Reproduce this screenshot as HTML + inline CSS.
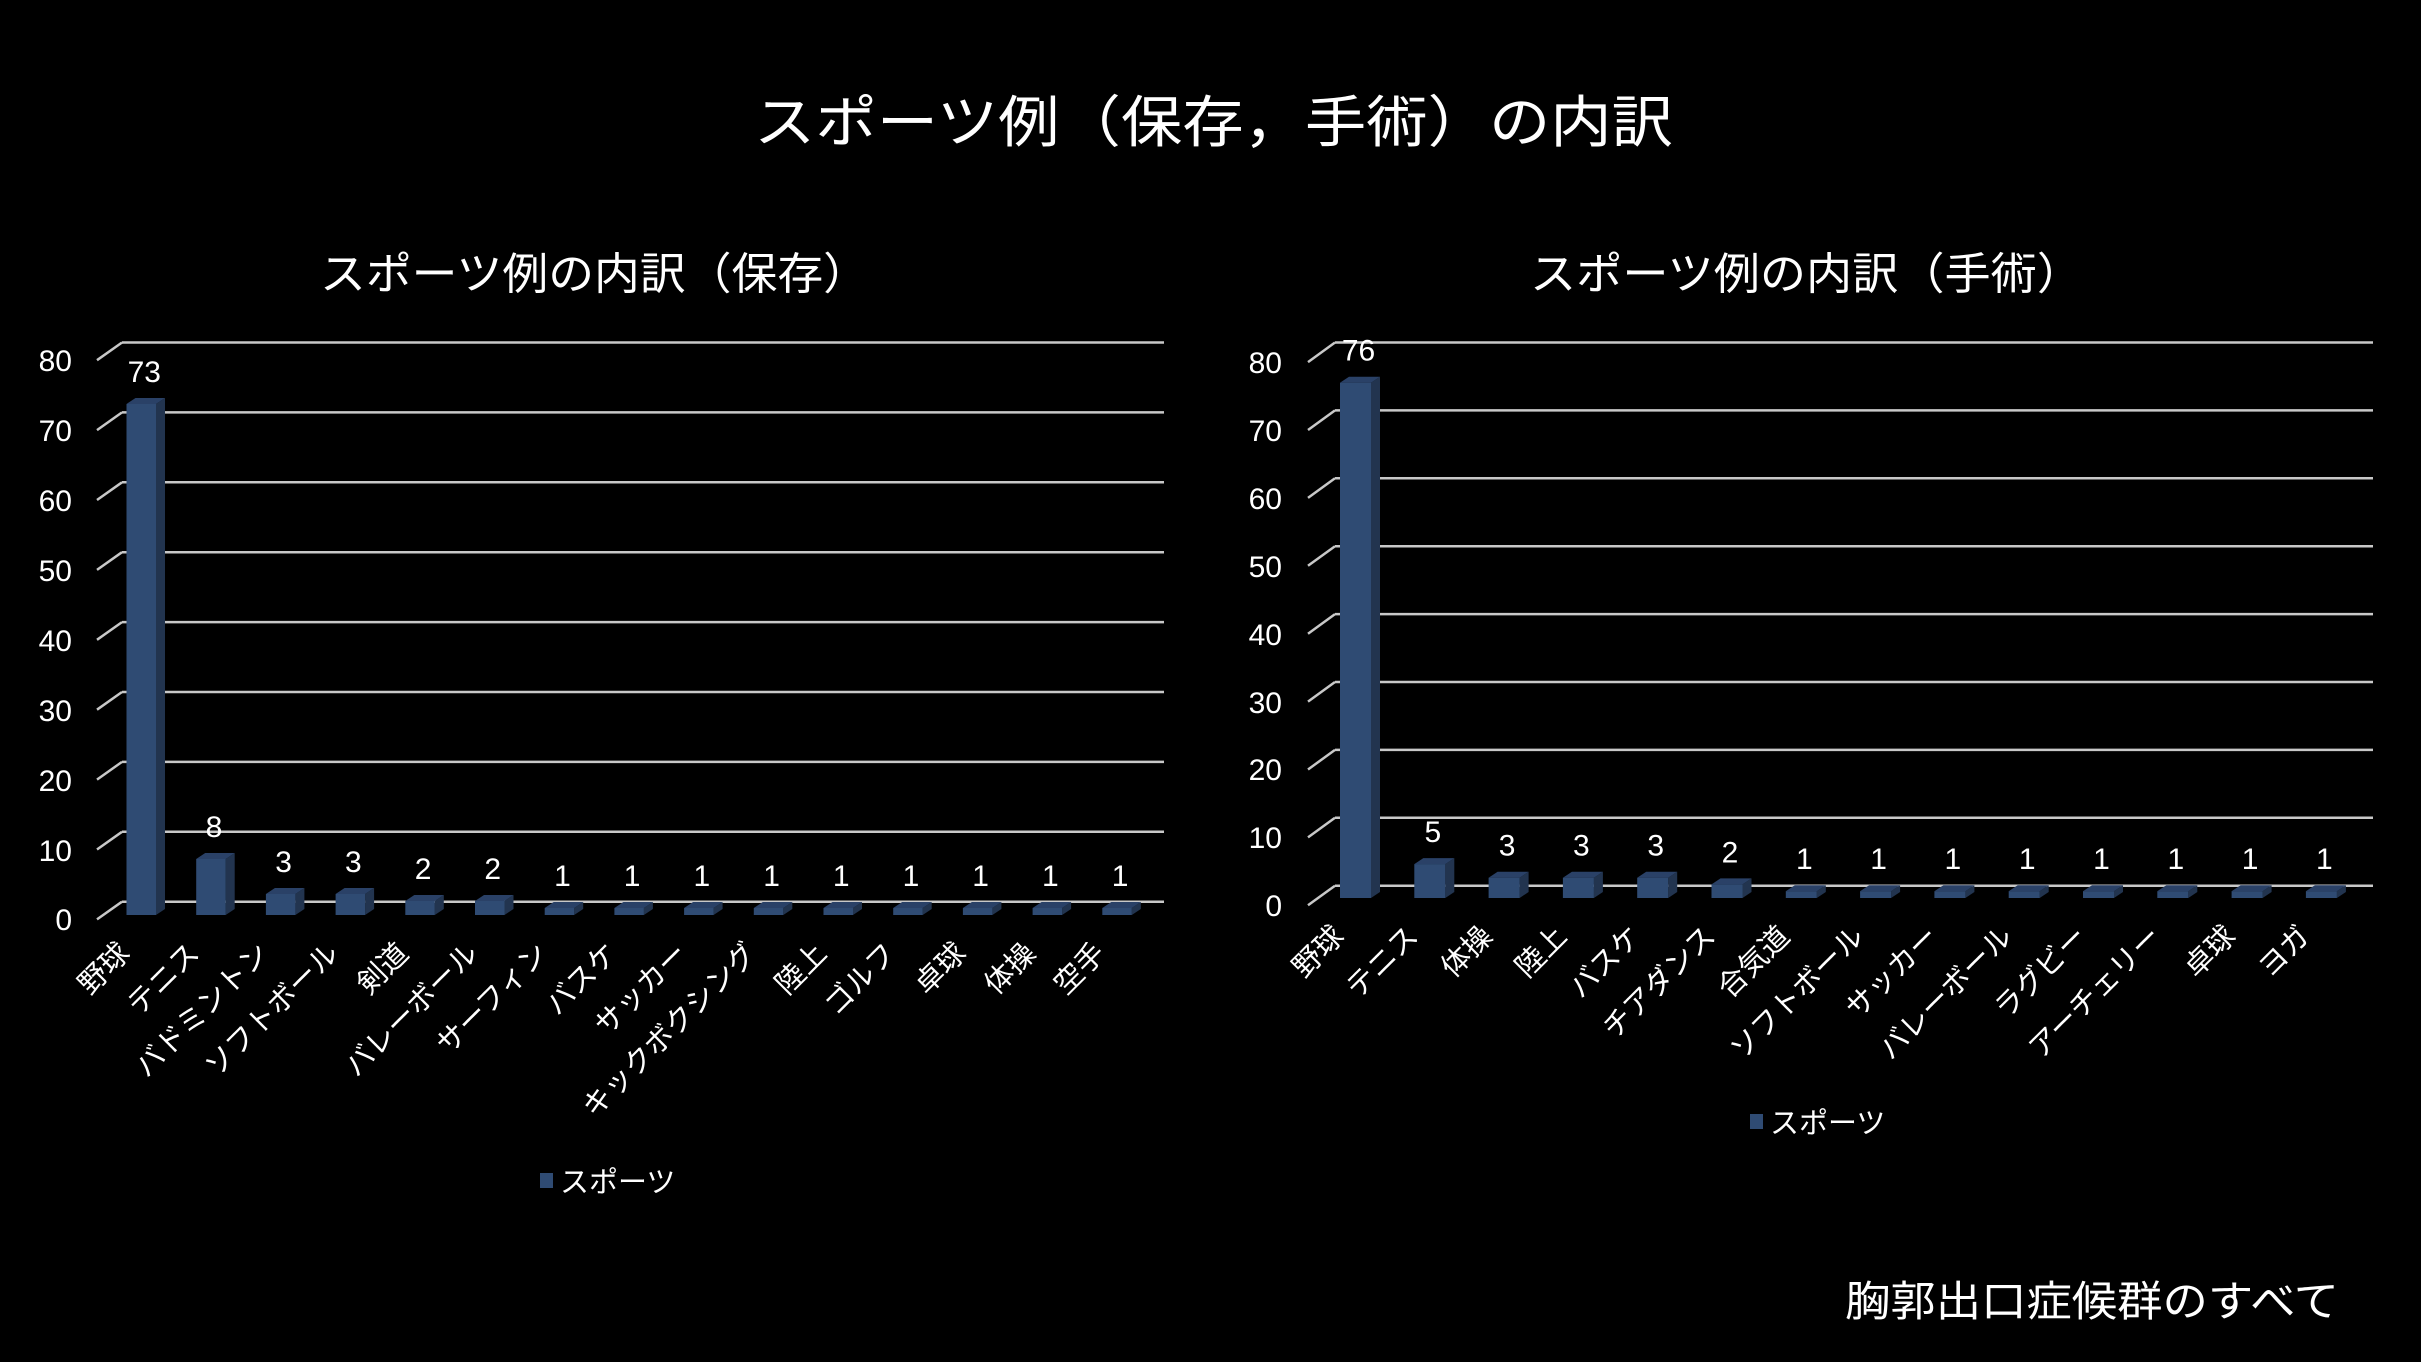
<!DOCTYPE html>
<html><head><meta charset="utf-8"><style>
html,body{margin:0;padding:0;background:#000;}
svg{display:block;}
text{font-family:"Liberation Sans","Noto Sans CJK JP",sans-serif;fill:#fff;}
.g{stroke:#c8c8c8;stroke-width:2.5;}
.f{fill:#2f4b73}.s{fill:#22344f}.t{fill:#2a4167}
.yl{font-size:30px;text-anchor:end}
.vl{font-size:30px;text-anchor:middle}
.cl{font-size:29px;text-anchor:end}
</style></head><body>
<svg width="2421" height="1362" viewBox="0 0 2421 1362" xmlns="http://www.w3.org/2000/svg">
<rect width="2421" height="1362" fill="#000"/>
<text x="754" y="142" font-size="56" textLength="919" lengthAdjust="spacingAndGlyphs">スポーツ例（保存，手術）の内訳</text>
<text x="320" y="289" font-size="44" textLength="549" lengthAdjust="spacingAndGlyphs">スポーツ例の内訳（保存）</text>
<text x="1530" y="289" font-size="44" textLength="553" lengthAdjust="spacingAndGlyphs">スポーツ例の内訳（手術）</text>
<text x="1845" y="1316" font-size="42" textLength="494" lengthAdjust="spacingAndGlyphs">胸郭出口症候群のすべて</text>

<g class="g">
<line x1="97" y1="360.2" x2="122" y2="342.5"/><line x1="122" y1="342.5" x2="1164" y2="342.5"/>
<line x1="97" y1="430.1" x2="122" y2="412.4"/><line x1="122" y1="412.4" x2="1164" y2="412.4"/>
<line x1="97" y1="500" x2="122" y2="482.3"/><line x1="122" y1="482.3" x2="1164" y2="482.3"/>
<line x1="97" y1="569.9" x2="122" y2="552.2"/><line x1="122" y1="552.2" x2="1164" y2="552.2"/>
<line x1="97" y1="639.8" x2="122" y2="622.1"/><line x1="122" y1="622.1" x2="1164" y2="622.1"/>
<line x1="97" y1="709.7" x2="122" y2="692"/><line x1="122" y1="692" x2="1164" y2="692"/>
<line x1="97" y1="779.6" x2="122" y2="761.9"/><line x1="122" y1="761.9" x2="1164" y2="761.9"/>
<line x1="97" y1="849.5" x2="122" y2="831.8"/><line x1="122" y1="831.8" x2="1164" y2="831.8"/>
<line x1="97" y1="919.4" x2="122" y2="901.7"/><line x1="122" y1="901.7" x2="1164" y2="901.7"/>
</g>
<text class="yl" x="72" y="371">80</text>
<text class="yl" x="72" y="441">70</text>
<text class="yl" x="72" y="511">60</text>
<text class="yl" x="72" y="581">50</text>
<text class="yl" x="72" y="651">40</text>
<text class="yl" x="72" y="721">30</text>
<text class="yl" x="72" y="791">20</text>
<text class="yl" x="72" y="861">10</text>
<text class="yl" x="72" y="930">0</text>

<g transform="translate(126.5,404)"><polygon class="s" points="29.5,0 38.5,-6 38.5,505 29.5,511"/><polygon class="t" points="0,0 9,-6 38.5,-6 29.5,0"/><rect class="f" width="29.5" height="511"/><text class="vl" x="17.75" y="-22">73</text><text class="cl" x="4.75" y="551" transform="rotate(-45 4.75 551)">野球</text></g>
<g transform="translate(196.2,859)"><polygon class="s" points="29.5,0 38.5,-6 38.5,50 29.5,56"/><polygon class="t" points="0,0 9,-6 38.5,-6 29.5,0"/><rect class="f" width="29.5" height="56"/><text class="vl" x="17.75" y="-22">8</text><text class="cl" x="4.75" y="96" transform="rotate(-45 4.75 96)">テニス</text></g>
<g transform="translate(265.9,894)"><polygon class="s" points="29.5,0 38.5,-6 38.5,15 29.5,21"/><polygon class="t" points="0,0 9,-6 38.5,-6 29.5,0"/><rect class="f" width="29.5" height="21"/><text class="vl" x="17.75" y="-22">3</text><text class="cl" x="4.75" y="61" transform="rotate(-45 4.75 61)">バドミントン</text></g>
<g transform="translate(335.6,894)"><polygon class="s" points="29.5,0 38.5,-6 38.5,15 29.5,21"/><polygon class="t" points="0,0 9,-6 38.5,-6 29.5,0"/><rect class="f" width="29.5" height="21"/><text class="vl" x="17.75" y="-22">3</text><text class="cl" x="4.75" y="61" transform="rotate(-45 4.75 61)">ソフトボール</text></g>
<g transform="translate(405.3,901)"><polygon class="s" points="29.5,0 38.5,-6 38.5,8 29.5,14"/><polygon class="t" points="0,0 9,-6 38.5,-6 29.5,0"/><rect class="f" width="29.5" height="14"/><text class="vl" x="17.75" y="-22">2</text><text class="cl" x="4.75" y="54" transform="rotate(-45 4.75 54)">剣道</text></g>
<g transform="translate(475,901)"><polygon class="s" points="29.5,0 38.5,-6 38.5,8 29.5,14"/><polygon class="t" points="0,0 9,-6 38.5,-6 29.5,0"/><rect class="f" width="29.5" height="14"/><text class="vl" x="17.75" y="-22">2</text><text class="cl" x="4.75" y="54" transform="rotate(-45 4.75 54)">バレーボール</text></g>
<g transform="translate(544.7,908)"><polygon class="s" points="29.5,0 38.5,-6 38.5,1 29.5,7"/><polygon class="t" points="0,0 9,-6 38.5,-6 29.5,0"/><rect class="f" width="29.5" height="7"/><text class="vl" x="17.75" y="-22">1</text><text class="cl" x="4.75" y="47" transform="rotate(-45 4.75 47)">サーフィン</text></g>
<g transform="translate(614.4,908)"><polygon class="s" points="29.5,0 38.5,-6 38.5,1 29.5,7"/><polygon class="t" points="0,0 9,-6 38.5,-6 29.5,0"/><rect class="f" width="29.5" height="7"/><text class="vl" x="17.75" y="-22">1</text><text class="cl" x="4.75" y="47" transform="rotate(-45 4.75 47)">バスケ</text></g>
<g transform="translate(684.1,908)"><polygon class="s" points="29.5,0 38.5,-6 38.5,1 29.5,7"/><polygon class="t" points="0,0 9,-6 38.5,-6 29.5,0"/><rect class="f" width="29.5" height="7"/><text class="vl" x="17.75" y="-22">1</text><text class="cl" x="4.75" y="47" transform="rotate(-45 4.75 47)">サッカー</text></g>
<g transform="translate(753.8,908)"><polygon class="s" points="29.5,0 38.5,-6 38.5,1 29.5,7"/><polygon class="t" points="0,0 9,-6 38.5,-6 29.5,0"/><rect class="f" width="29.5" height="7"/><text class="vl" x="17.75" y="-22">1</text><text class="cl" x="4.75" y="47" transform="rotate(-45 4.75 47)">キックボクシング</text></g>
<g transform="translate(823.5,908)"><polygon class="s" points="29.5,0 38.5,-6 38.5,1 29.5,7"/><polygon class="t" points="0,0 9,-6 38.5,-6 29.5,0"/><rect class="f" width="29.5" height="7"/><text class="vl" x="17.75" y="-22">1</text><text class="cl" x="4.75" y="47" transform="rotate(-45 4.75 47)">陸上</text></g>
<g transform="translate(893.2,908)"><polygon class="s" points="29.5,0 38.5,-6 38.5,1 29.5,7"/><polygon class="t" points="0,0 9,-6 38.5,-6 29.5,0"/><rect class="f" width="29.5" height="7"/><text class="vl" x="17.75" y="-22">1</text><text class="cl" x="4.75" y="47" transform="rotate(-45 4.75 47)">ゴルフ</text></g>
<g transform="translate(962.9,908)"><polygon class="s" points="29.5,0 38.5,-6 38.5,1 29.5,7"/><polygon class="t" points="0,0 9,-6 38.5,-6 29.5,0"/><rect class="f" width="29.5" height="7"/><text class="vl" x="17.75" y="-22">1</text><text class="cl" x="4.75" y="47" transform="rotate(-45 4.75 47)">卓球</text></g>
<g transform="translate(1032.6,908)"><polygon class="s" points="29.5,0 38.5,-6 38.5,1 29.5,7"/><polygon class="t" points="0,0 9,-6 38.5,-6 29.5,0"/><rect class="f" width="29.5" height="7"/><text class="vl" x="17.75" y="-22">1</text><text class="cl" x="4.75" y="47" transform="rotate(-45 4.75 47)">体操</text></g>
<g transform="translate(1102.3,908)"><polygon class="s" points="29.5,0 38.5,-6 38.5,1 29.5,7"/><polygon class="t" points="0,0 9,-6 38.5,-6 29.5,0"/><rect class="f" width="29.5" height="7"/><text class="vl" x="17.75" y="-22">1</text><text class="cl" x="4.75" y="47" transform="rotate(-45 4.75 47)">空手</text></g>
<rect class="f" x="540" y="1173" width="13" height="15"/>
<text x="560" y="1192" font-size="29">スポーツ</text>

<g class="g">
<line x1="1308" y1="362.1" x2="1335" y2="342.5"/><line x1="1335" y1="342.5" x2="2373" y2="342.5"/>
<line x1="1308" y1="430" x2="1335" y2="410.4"/><line x1="1335" y1="410.4" x2="2373" y2="410.4"/>
<line x1="1308" y1="497.9" x2="1335" y2="478.3"/><line x1="1335" y1="478.3" x2="2373" y2="478.3"/>
<line x1="1308" y1="565.8" x2="1335" y2="546.2"/><line x1="1335" y1="546.2" x2="2373" y2="546.2"/>
<line x1="1308" y1="633.7" x2="1335" y2="614.1"/><line x1="1335" y1="614.1" x2="2373" y2="614.1"/>
<line x1="1308" y1="701.6" x2="1335" y2="682"/><line x1="1335" y1="682" x2="2373" y2="682"/>
<line x1="1308" y1="769.5" x2="1335" y2="749.9"/><line x1="1335" y1="749.9" x2="2373" y2="749.9"/>
<line x1="1308" y1="837.4" x2="1335" y2="817.8"/><line x1="1335" y1="817.8" x2="2373" y2="817.8"/>
<line x1="1308" y1="905.3" x2="1335" y2="885.7"/><line x1="1335" y1="885.7" x2="2373" y2="885.7"/>
</g>
<text class="yl" x="1282" y="373">80</text>
<text class="yl" x="1282" y="441">70</text>
<text class="yl" x="1282" y="509">60</text>
<text class="yl" x="1282" y="577">50</text>
<text class="yl" x="1282" y="645">40</text>
<text class="yl" x="1282" y="713">30</text>
<text class="yl" x="1282" y="780">20</text>
<text class="yl" x="1282" y="848">10</text>
<text class="yl" x="1282" y="916">0</text>

<g transform="translate(1340,382.7)"><polygon class="s" points="31,0 40,-6 40,509.3 31,515.3"/><polygon class="t" points="0,0 9,-6 40,-6 31,0"/><rect class="f" width="31" height="515.3"/><text class="vl" x="18.5" y="-22">76</text><text class="cl" x="5.5" y="555.3" transform="rotate(-45 5.5 555.3)">野球</text></g>
<g transform="translate(1414.3,864.1)"><polygon class="s" points="31,0 40,-6 40,27.9 31,33.9"/><polygon class="t" points="0,0 9,-6 40,-6 31,0"/><rect class="f" width="31" height="33.9"/><text class="vl" x="18.5" y="-22">5</text><text class="cl" x="5.5" y="73.9" transform="rotate(-45 5.5 73.9)">テニス</text></g>
<g transform="translate(1488.6,877.7)"><polygon class="s" points="31,0 40,-6 40,14.3 31,20.3"/><polygon class="t" points="0,0 9,-6 40,-6 31,0"/><rect class="f" width="31" height="20.3"/><text class="vl" x="18.5" y="-22">3</text><text class="cl" x="5.5" y="60.3" transform="rotate(-45 5.5 60.3)">体操</text></g>
<g transform="translate(1562.9,877.7)"><polygon class="s" points="31,0 40,-6 40,14.3 31,20.3"/><polygon class="t" points="0,0 9,-6 40,-6 31,0"/><rect class="f" width="31" height="20.3"/><text class="vl" x="18.5" y="-22">3</text><text class="cl" x="5.5" y="60.3" transform="rotate(-45 5.5 60.3)">陸上</text></g>
<g transform="translate(1637.2,877.7)"><polygon class="s" points="31,0 40,-6 40,14.3 31,20.3"/><polygon class="t" points="0,0 9,-6 40,-6 31,0"/><rect class="f" width="31" height="20.3"/><text class="vl" x="18.5" y="-22">3</text><text class="cl" x="5.5" y="60.3" transform="rotate(-45 5.5 60.3)">バスケ</text></g>
<g transform="translate(1711.5,884.4)"><polygon class="s" points="31,0 40,-6 40,7.6 31,13.6"/><polygon class="t" points="0,0 9,-6 40,-6 31,0"/><rect class="f" width="31" height="13.6"/><text class="vl" x="18.5" y="-22">2</text><text class="cl" x="5.5" y="53.6" transform="rotate(-45 5.5 53.6)">チアダンス</text></g>
<g transform="translate(1785.8,891.2)"><polygon class="s" points="31,0 40,-6 40,0.8 31,6.8"/><polygon class="t" points="0,0 9,-6 40,-6 31,0"/><rect class="f" width="31" height="6.8"/><text class="vl" x="18.5" y="-22">1</text><text class="cl" x="5.5" y="46.8" transform="rotate(-45 5.5 46.8)">合気道</text></g>
<g transform="translate(1860.1,891.2)"><polygon class="s" points="31,0 40,-6 40,0.8 31,6.8"/><polygon class="t" points="0,0 9,-6 40,-6 31,0"/><rect class="f" width="31" height="6.8"/><text class="vl" x="18.5" y="-22">1</text><text class="cl" x="5.5" y="46.8" transform="rotate(-45 5.5 46.8)">ソフトボール</text></g>
<g transform="translate(1934.4,891.2)"><polygon class="s" points="31,0 40,-6 40,0.8 31,6.8"/><polygon class="t" points="0,0 9,-6 40,-6 31,0"/><rect class="f" width="31" height="6.8"/><text class="vl" x="18.5" y="-22">1</text><text class="cl" x="5.5" y="46.8" transform="rotate(-45 5.5 46.8)">サッカー</text></g>
<g transform="translate(2008.7,891.2)"><polygon class="s" points="31,0 40,-6 40,0.8 31,6.8"/><polygon class="t" points="0,0 9,-6 40,-6 31,0"/><rect class="f" width="31" height="6.8"/><text class="vl" x="18.5" y="-22">1</text><text class="cl" x="5.5" y="46.8" transform="rotate(-45 5.5 46.8)">バレーボール</text></g>
<g transform="translate(2083,891.2)"><polygon class="s" points="31,0 40,-6 40,0.8 31,6.8"/><polygon class="t" points="0,0 9,-6 40,-6 31,0"/><rect class="f" width="31" height="6.8"/><text class="vl" x="18.5" y="-22">1</text><text class="cl" x="5.5" y="46.8" transform="rotate(-45 5.5 46.8)">ラグビー</text></g>
<g transform="translate(2157.3,891.2)"><polygon class="s" points="31,0 40,-6 40,0.8 31,6.8"/><polygon class="t" points="0,0 9,-6 40,-6 31,0"/><rect class="f" width="31" height="6.8"/><text class="vl" x="18.5" y="-22">1</text><text class="cl" x="5.5" y="46.8" transform="rotate(-45 5.5 46.8)">アーチェリー</text></g>
<g transform="translate(2231.6,891.2)"><polygon class="s" points="31,0 40,-6 40,0.8 31,6.8"/><polygon class="t" points="0,0 9,-6 40,-6 31,0"/><rect class="f" width="31" height="6.8"/><text class="vl" x="18.5" y="-22">1</text><text class="cl" x="5.5" y="46.8" transform="rotate(-45 5.5 46.8)">卓球</text></g>
<g transform="translate(2305.9,891.2)"><polygon class="s" points="31,0 40,-6 40,0.8 31,6.8"/><polygon class="t" points="0,0 9,-6 40,-6 31,0"/><rect class="f" width="31" height="6.8"/><text class="vl" x="18.5" y="-22">1</text><text class="cl" x="5.5" y="46.8" transform="rotate(-45 5.5 46.8)">ヨガ</text></g>
<rect class="f" x="1750" y="1114" width="13" height="15"/>
<text x="1770" y="1133" font-size="29">スポーツ</text>
</svg>
</body></html>
